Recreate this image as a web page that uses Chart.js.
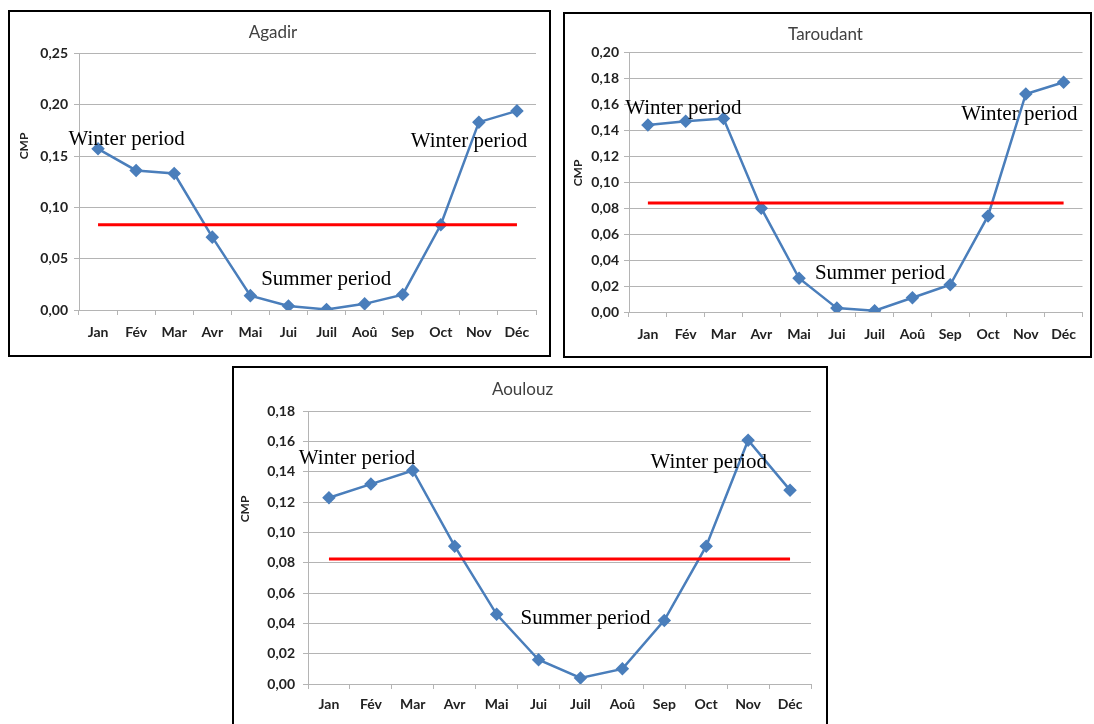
<!DOCTYPE html>
<html>
<head>
<meta charset="utf-8">
<script src="https://cdn.jsdelivr.net/npm/chart.js"></script>
<style>
  body { margin: 0; background: #fff; width: 1094px; height: 724px; overflow: hidden; position: relative; }
  .panel { position: absolute; border: 2px solid #000; box-sizing: border-box; background: #fff; }
  .panel canvas { display: block; }
</style>
</head>
<body>
<div class="panel" style="left:8px;top:10px;width:543px;height:347px"><canvas id="agadir" width="539" height="343"></canvas></div>
<div class="panel" style="left:563px;top:12px;width:529px;height:346px"><canvas id="taroudant" width="525" height="342"></canvas></div>
<div class="panel" style="left:232px;top:366px;width:596px;height:362px"><canvas id="aoulouz" width="592" height="358"></canvas></div>

<script>
// months on the x axis
const months = ['Jan', 'Fév', 'Mar', 'Avr', 'Mai', 'Jui', 'Juil', 'Aoû', 'Sep', 'Oct', 'Nov', 'Déc'];

// monthly CMP values
const agadirCmp = [0.157, 0.136, 0.133, 0.071, 0.014, 0.004, 0.0005, 0.006, 0.015, 0.083, 0.183, 0.194];
const taroudantCmp = [0.144, 0.147, 0.149, 0.080, 0.026, 0.003, 0.001, 0.011, 0.021, 0.074, 0.168, 0.177];
const aoulouzCmp = [0.123, 0.132, 0.141, 0.091, 0.046, 0.016, 0.004, 0.010, 0.042, 0.091, 0.161, 0.128];

// red reference line (annual mean)
const agadirMean = 0.083;
const taroudantMean = 0.084;
const aoulouzMean = 0.0825;

// y axis ticks
const agadirTicks = [0, 0.05, 0.10, 0.15, 0.20, 0.25];
const taroudantTicks = [0, 0.02, 0.04, 0.06, 0.08, 0.10, 0.12, 0.14, 0.16, 0.18, 0.20];
const aoulouzTicks = [0, 0.02, 0.04, 0.06, 0.08, 0.10, 0.12, 0.14, 0.16, 0.18];

const GRID = '#b4b4b4';
const BLUE = '#4a7ebb';

// draws the period labels and the rotated CMP title
const notesPlugin = {
  id: 'notes',
  afterDatasetsDraw(chart, args, o) {
    const { ctx } = chart;
    const x = chart.scales.x, y = chart.scales.y;
    const x0 = x.getPixelForValue(0), step = x.getPixelForValue(1) - x0;
    ctx.save();
    ctx.fillStyle = '#000';
    ctx.textAlign = 'center';
    ctx.textBaseline = 'middle';
    ctx.font = '21px "Liberation Serif"';
    o.items.forEach(n => {
      ctx.fillText(n.text, x0 + n.at * step, y.getPixelForValue(n.y));
    });
    ctx.translate(o.cmp[0], o.cmp[1]);
    ctx.rotate(-Math.PI / 2);
    ctx.font = 'bold 12px Lato';
    ctx.fillStyle = '#222';
    ctx.fillText('CMP', 0, 0);
    ctx.restore();
  }
};

function makeChart(id, title, values, mean, ticks, lay) {
  const fmt = v => v.toFixed(2).replace('.', ',');
  new Chart(document.getElementById(id), {
    type: 'line',
    data: {
      labels: months,
      datasets: [
        {
          data: months.map(() => mean),
          borderColor: '#ff0000',
          borderWidth: 3,
          pointRadius: 0,
          pointHoverRadius: 0
        },
        {
          data: values,
          borderColor: BLUE,
          backgroundColor: BLUE,
          borderWidth: 2.5,
          pointStyle: 'rectRot',
          pointRadius: 5,
          tension: 0
        }
      ]
    },
    options: {
      responsive: false,
      animation: false,
      layout: { padding: { left: 0, right: lay.right, top: 0, bottom: 0 } },
      plugins: {
        legend: { display: false },
        tooltip: { enabled: false },
        title: {
          display: true,
          text: title,
          color: '#404040',
          font: { family: 'Lato', size: 17, weight: 'normal' },
          padding: { top: lay.titleTop, bottom: lay.titleBottom }
        },
        notes: { items: lay.notes, cmp: lay.cmp }
      },
      scales: {
        x: {
          offset: true,
          afterFit: s => { s.height = lay.xHeight; },
          border: { display: true, color: GRID },
          grid: { drawOnChartArea: false, drawTicks: true, tickLength: 5, color: GRID, offset: true },
          ticks: { color: '#222', padding: lay.xPad, font: { family: 'Lato', size: 14, weight: 'bold' } }
        },
        y: {
          min: ticks[0],
          max: ticks[ticks.length - 1],
          afterFit: s => { s.width = lay.yWidth; },
          afterBuildTicks: s => { s.ticks = ticks.map(v => ({ value: v })); },
          border: { display: true, color: GRID },
          grid: { color: GRID, drawTicks: true, tickLength: 5 },
          ticks: {
            color: '#222',
            padding: lay.yPad,
            font: { family: 'Lato', size: 14, weight: 'bold' },
            callback: v => fmt(v)
          }
        }
      }
    },
    plugins: [notesPlugin]
  });
}

makeChart('agadir', 'Agadir', agadirCmp, agadirMean, agadirTicks, {
  yWidth: 69, xHeight: 45, right: 13, titleTop: 10, titleBottom: 11, xPad: 9, yPad: 6,
  cmp: [14, 134],
  notes: [
    { text: 'Winter period', at: 0.75, y: 0.166 },
    { text: 'Winter period', at: 9.74, y: 0.164 },
    { text: 'Summer period', at: 5.99, y: 0.030 }
  ]
});

makeChart('taroudant', 'Taroudant', taroudantCmp, taroudantMean, taroudantTicks, {
  yWidth: 64, xHeight: 44, right: 4, titleTop: 10, titleBottom: 8, xPad: 9, yPad: 5,
  cmp: [13, 159],
  notes: [
    { text: 'Winter period', at: 0.94, y: 0.157 },
    { text: 'Winter period', at: 9.83, y: 0.152 },
    { text: 'Summer period', at: 6.14, y: 0.030 }
  ]
});

makeChart('aoulouz', 'Aoulouz', aoulouzCmp, aoulouzMean, aoulouzTicks, {
  yWidth: 74, xHeight: 42, right: 15, titleTop: 11, titleBottom: 12, xPad: 7, yPad: 8,
  cmp: [11, 141],
  notes: [
    { text: 'Winter period', at: 0.67, y: 0.149 },
    { text: 'Winter period', at: 9.06, y: 0.146 },
    { text: 'Summer period', at: 6.12, y: 0.043 }
  ]
});
</script>
</body>
</html>
